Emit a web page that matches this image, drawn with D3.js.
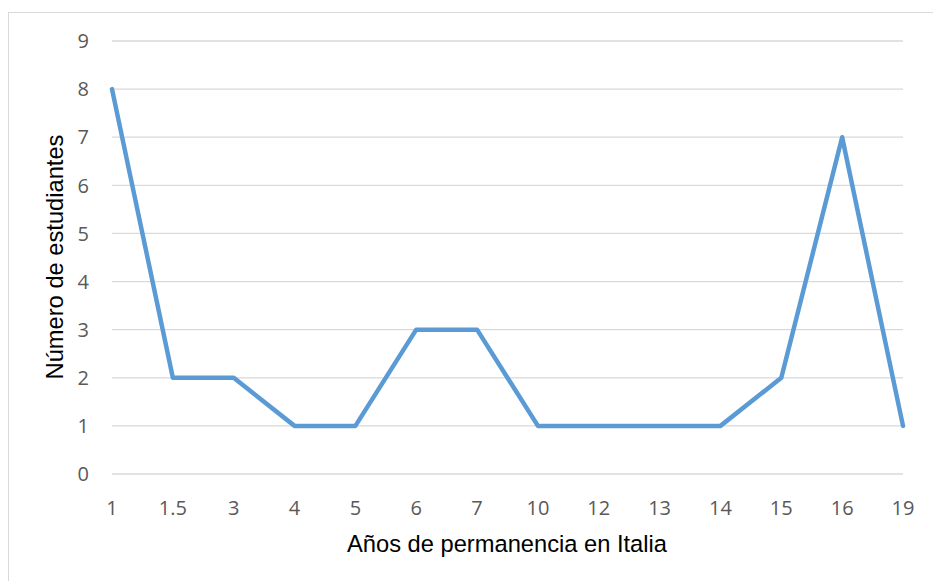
<!DOCTYPE html>
<html>
<head>
<meta charset="utf-8">
<script src="https://cdn.jsdelivr.net/npm/d3@7"></script>
<style>
  body { margin: 0; background: #fff; }
</style>
</head>
<body>
<div class="chart"></div>
<script>
// Data
var years = ["1", "1.5", "3", "4", "5", "6", "7", "10", "12", "13", "14", "15", "16", "19"];
var students = [8, 2, 2, 1, 1, 3, 3, 1, 1, 1, 1, 2, 7, 1];
var yTicks = [0, 1, 2, 3, 4, 5, 6, 7, 8, 9];

var width = 933, height = 581;
// plot area edges (don't use "top" -> clashes with window.top)
var plotLeft = 112, plotRight = 903, plotTop = 41, plotBottom = 474;

var svg = d3.select(".chart").append("svg")
    .attr("width", width)
    .attr("height", height);

// outer frame
svg.append("rect")
    .attr("x", 8.5).attr("y", 12.5)
    .attr("width", 940).attr("height", 600)
    .attr("fill", "none")
    .attr("stroke", "#d9d9d9");

var x = d3.scalePoint().domain(years).range([plotLeft, plotRight]);
var y = d3.scaleLinear().domain([0, 9]).range([plotBottom, plotTop]);

// gridlines
svg.append("g").selectAll("line")
    .data(yTicks)
    .enter().append("line")
    .attr("x1", plotLeft).attr("x2", plotRight)
    .attr("y1", d => y(d)).attr("y2", d => y(d))
    .attr("stroke", "#d9d9d9")
    .attr("stroke-width", 1.3);

// y tick labels
svg.append("g").selectAll("text")
    .data(yTicks)
    .enter().append("text")
    .attr("x", 89)
    .attr("y", d => y(d))
    .attr("dy", "0.36em")
    .attr("text-anchor", "end")
    .attr("font-family", "'Open Sans', sans-serif")
    .attr("font-size", 20)
    .attr("fill", "#595959")
    .text(d => d);

// x tick labels
svg.append("g").selectAll("text")
    .data(years)
    .enter().append("text")
    .attr("x", d => x(d))
    .attr("y", 515)
    .attr("text-anchor", "middle")
    .attr("font-family", "'Open Sans', sans-serif")
    .attr("font-size", 20)
    .attr("fill", "#595959")
    .text(d => d);

// line
var line = d3.line()
    .x((d, i) => x(years[i]))
    .y(d => y(d));

svg.append("path")
    .datum(students)
    .attr("d", line)
    .attr("fill", "none")
    .attr("stroke", "#5b9bd5")
    .attr("stroke-width", 4.5)
    .attr("stroke-linejoin", "round")
    .attr("stroke-linecap", "round");

// axis titles
svg.append("text")
    .attr("x", 507).attr("y", 552)
    .attr("text-anchor", "middle")
    .attr("font-family", "'Liberation Sans', Arial, sans-serif")
    .attr("font-size", 23.7)
    .attr("fill", "#000")
    .text("Años de permanencia en Italia");

svg.append("text")
    .attr("transform", "translate(63,257) rotate(-90)")
    .attr("text-anchor", "middle")
    .attr("font-family", "'Liberation Sans', Arial, sans-serif")
    .attr("font-size", 23.7)
    .attr("fill", "#000")
    .text("Número de estudiantes");
</script>
</body>
</html>
